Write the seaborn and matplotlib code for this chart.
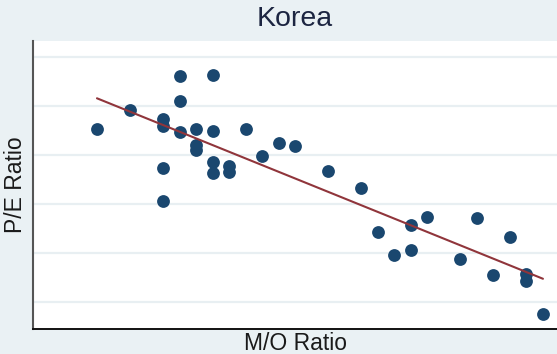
import matplotlib
matplotlib.use("Agg")
import matplotlib.pyplot as plt
import seaborn as sns
import pandas as pd

# M/O ratio and P/E ratio for Korean market observations
mo_ratio = [0.4, 0.6, 0.8, 0.8, 0.8, 0.8, 0.9, 0.9, 0.9, 1.0, 1.0, 1.0,
            1.1, 1.1, 1.1, 1.1, 1.2, 1.2, 1.3, 1.4, 1.5, 1.6, 1.8, 2.0,
            2.1, 2.2, 2.3, 2.3, 2.4, 2.6, 2.7, 2.8, 2.9, 3.0, 3.0, 3.1]
pe_ratio = [22.65, 24.6, 23.7, 23.0, 18.7, 15.3, 28.1, 25.5, 22.3, 22.6, 21.0, 20.5,
            28.2, 22.4, 19.3, 18.2, 18.9, 18.3, 22.6, 19.9, 21.2, 20.9, 18.4, 16.6,
            12.1, 9.8, 12.9, 10.3, 13.7, 9.4, 13.6, 7.8, 11.6, 7.9, 7.1, 3.8]
grid_levels = [5, 10, 15, 20, 25, 30]

df = pd.DataFrame({"M/O Ratio": mo_ratio, "P/E Ratio": pe_ratio})

sns.set_theme(style="white")
plt.rcParams["font.family"] = ["Liberation Sans", "DejaVu Sans"]

bg = "#EAF1F4"
fig = plt.figure(figsize=(5.57, 3.54), dpi=100, facecolor=bg)
ax = fig.add_axes([33 / 557, 1 - 329 / 354, 1 - 33 / 557, (329 - 41) / 354])
ax.set_facecolor("white")

for g in grid_levels:
    ax.axhline(g, color="#E8EFF2", lw=1.6, zorder=0)

sns.regplot(data=df, x="M/O Ratio", y="P/E Ratio", ci=None, ax=ax,
            scatter_kws=dict(s=85, color="#1A476F", alpha=1, linewidths=0, zorder=3),
            line_kws=dict(color="#90353B", lw=1.5, zorder=4))

ax.set_xlim(0.0127, 3.185)
ax.set_ylim(2.24, 31.63)
ax.set_xticks([])
ax.set_yticks([])

for side in ["top", "right"]:
    ax.spines[side].set_visible(False)
ax.spines["left"].set_color("#555555")
ax.spines["left"].set_linewidth(1.5)
ax.spines["bottom"].set_color("#111111")
ax.spines["bottom"].set_linewidth(1.4)

ax.set_title("Korea", fontsize=20.5, color="#1C2541", pad=11)
ax.set_xlabel("M/O Ratio", fontsize=16.5, color="#1A1A1A", labelpad=2)
ax.set_ylabel("P/E Ratio", fontsize=16.5, color="#1A1A1A", labelpad=4)

fig.savefig("out.png", dpi=100, facecolor=bg)
